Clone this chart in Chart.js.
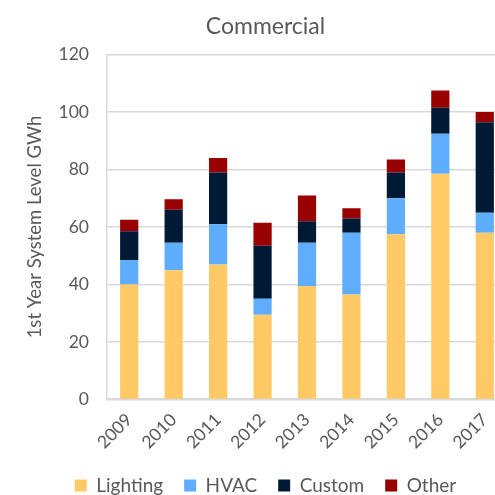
<!DOCTYPE html>
<html>
<head>
<meta charset="utf-8">
<script src="https://cdn.jsdelivr.net/npm/chart.js@4"></script>
<style>
  html, body { margin: 0; padding: 0; background: #fff; overflow: hidden; }
  #wrap { position: absolute; left: 0; top: 0; width: 535px; height: 505px; }
</style>
</head>
<body>
<div id="wrap"><canvas id="bar-chart"></canvas></div>
<script>
const years = ["2009", "2010", "2011", "2012", "2013", "2014", "2015", "2016", "2017"];
const lighting = [40, 45, 47, 29.5, 39.5, 36.5, 57.5, 78.5, 58];
const hvac = [8.5, 9.5, 14, 5.5, 15, 21.5, 12.5, 14, 7];
const custom = [10, 11.5, 18, 18.5, 7.5, 5, 9, 9, 31.5];
const other = [4, 3.7, 5, 8, 9, 3.5, 4.5, 6, 3.5];
const yTicks = [0, 20, 40, 60, 80, 100, 120];

const textColor = "#595959";
const gridColor = "#d9d9d9";
const font = "Lato, 'Open Sans', sans-serif";

const series = [
  { label: "Lighting", data: lighting, color: "#ffca66" },
  { label: "HVAC", data: hvac, color: "#5eadff" },
  { label: "Custom", data: custom, color: "#001a35" },
  { label: "Other", data: other, color: "#990000" },
];

new Chart(document.getElementById("bar-chart"), {
  type: "bar",
  data: {
    labels: years,
    datasets: series.map((s) => ({
      label: s.label,
      data: s.data,
      backgroundColor: s.color,
      borderWidth: 0,
      barPercentage: 0.41,
      categoryPercentage: 1,
    })),
  },
  options: {
    responsive: true,
    maintainAspectRatio: false,
    animation: false,
    layout: { padding: { left: 24, right: 28, top: 9, bottom: 0 } },
    plugins: {
      title: {
        display: true,
        text: "Commercial",
        color: textColor,
        font: { family: font, size: 23, weight: "normal" },
        padding: { top: 4, bottom: 14 },
      },
      legend: {
        position: "bottom",
        labels: {
          color: textColor,
          font: { family: font, size: 19 },
          boxWidth: 12,
          boxHeight: 12,
          padding: 21,
        },
      },
      tooltip: { enabled: false },
    },
    scales: {
      x: {
        stacked: true,
        grid: { display: false },
        border: { display: true, color: gridColor, width: 2 },
        ticks: {
          color: textColor,
          font: { family: font, size: 17.5 },
          maxRotation: 45,
          minRotation: 45,
          padding: 2,
        },
      },
      y: {
        stacked: true,
        min: yTicks[0],
        max: yTicks[yTicks.length - 1],
        afterBuildTicks: (axis) => {
          axis.ticks = yTicks.map((v) => ({ value: v }));
        },
        afterFit: (axis) => {
          axis.width = 83;
        },
        grid: { color: gridColor, lineWidth: 1.5, drawTicks: false },
        border: { display: true, color: gridColor, width: 1.5 },
        ticks: {
          color: textColor,
          font: { family: font, size: 17.5 },
          padding: 18,
        },
        title: {
          display: true,
          text: "1st Year System Level GWh",
          color: textColor,
          font: { family: font, size: 18.5 },
          padding: { top: 0, bottom: 0 },
        },
      },
    },
  },
});
</script>
</body>
</html>
